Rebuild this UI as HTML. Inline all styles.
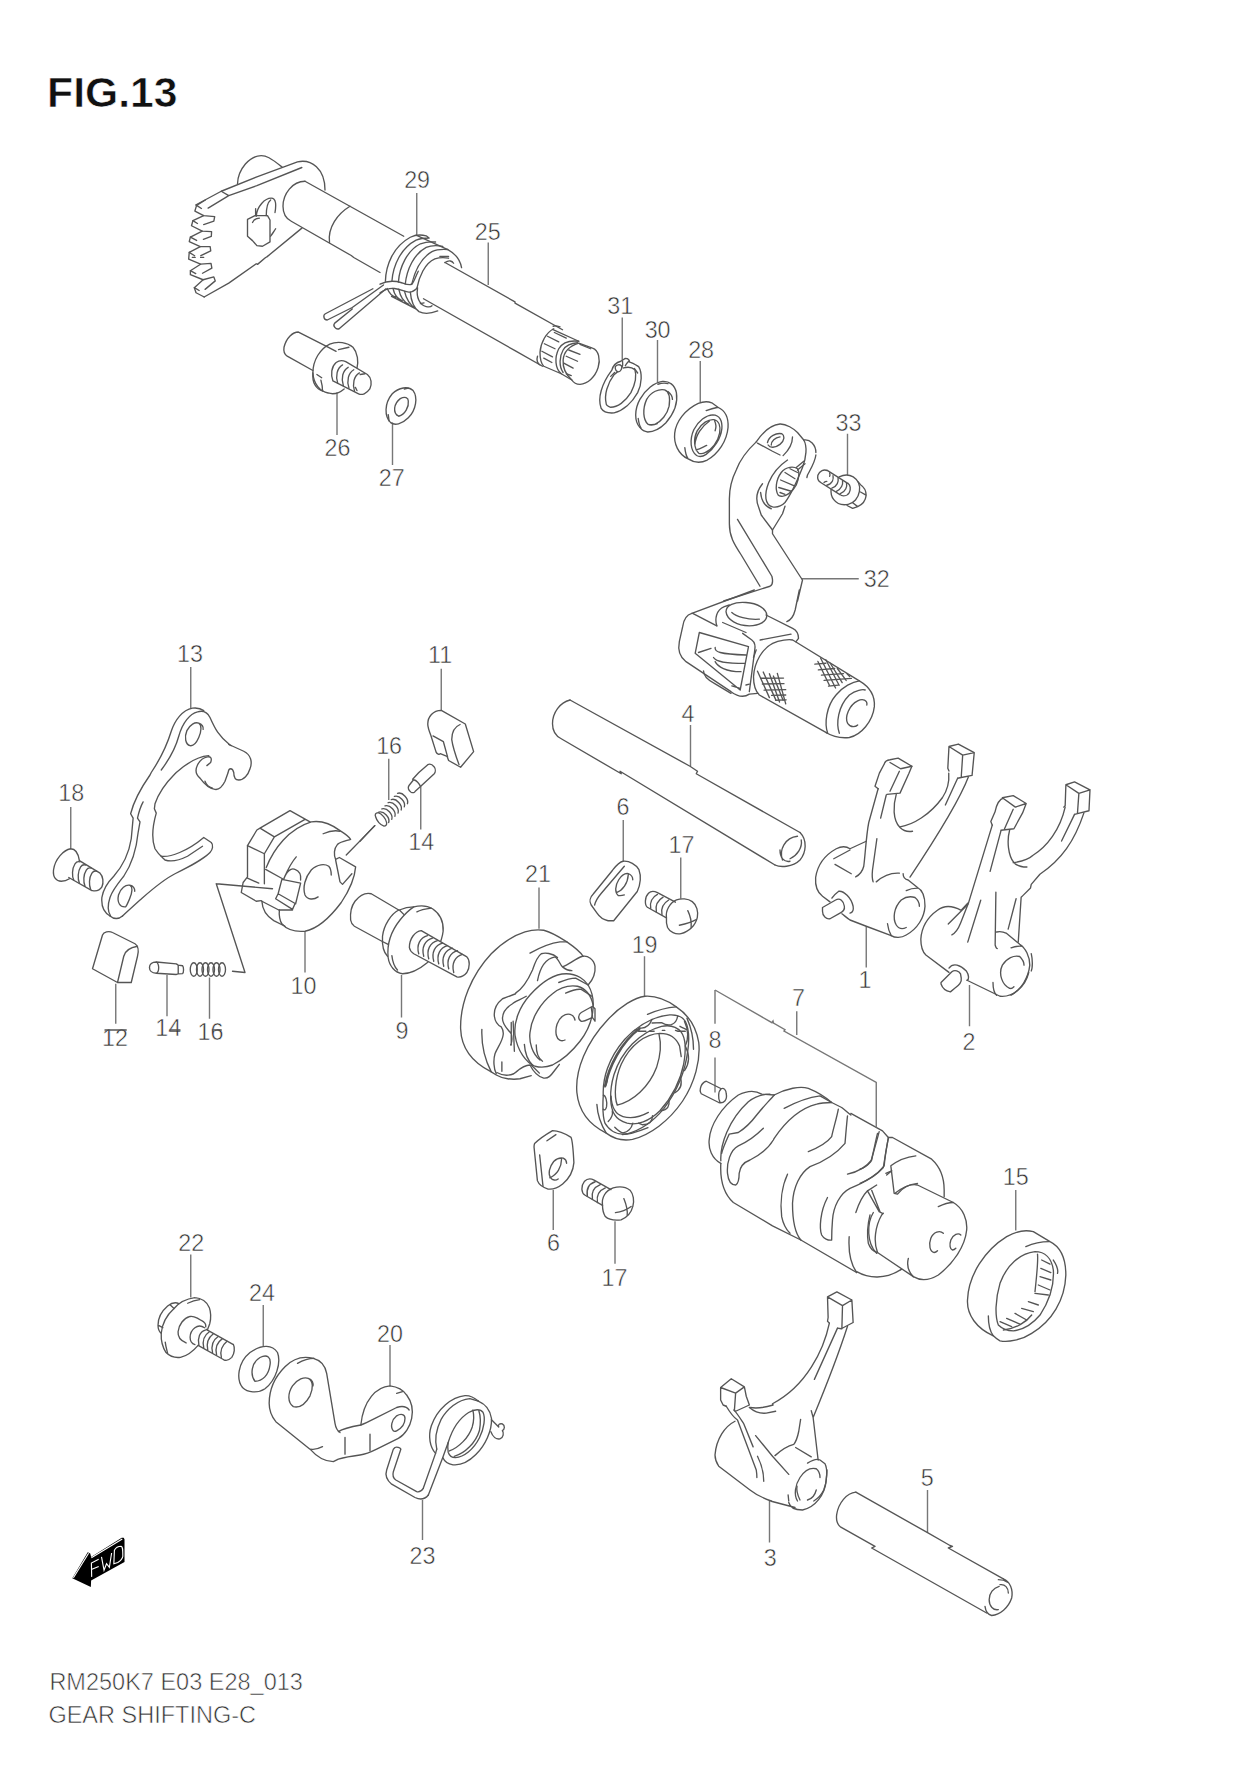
<!DOCTYPE html>
<html><head><meta charset="utf-8"><title>FIG.13</title>
<style>
html,body{margin:0;padding:0;background:#fff;}
svg{display:block;}
.lbl text{font-family:"Liberation Sans",sans-serif;font-size:23.3px;fill:#333;stroke:#fff;stroke-width:0.5px;text-anchor:middle;}
.ld{stroke:#777;stroke-width:1.4;fill:none;}
.p path,.p ellipse,.p circle,.p polyline,.p polygon{fill:none;stroke:#555;stroke-width:1.35;stroke-linejoin:round;stroke-linecap:round;vector-effect:non-scaling-stroke;}
.q{fill:none;stroke:#333;stroke-width:1.1;stroke-linejoin:round;stroke-linecap:round;}
</style></head><body>
<svg width="1247" height="1768" viewBox="0 0 1247 1768">
<text x="47.1" y="107.3" style="font-family:'Liberation Sans',sans-serif;font-weight:bold;font-size:42.7px;fill:#111;stroke:#fff;stroke-width:0.6px">FIG.13</text>
<text x="49.4" y="1690" style="font-family:'Liberation Sans',sans-serif;font-size:23.5px;fill:#333;stroke:#fff;stroke-width:0.6px">RM250K7 E03 E28_013</text>
<text x="48.4" y="1723" style="font-family:'Liberation Sans',sans-serif;font-size:23.5px;fill:#333;stroke:#fff;stroke-width:0.6px">GEAR SHIFTING-C</text>
<g class="lbl"><text x="417.1" y="187.5">29</text><text x="487.8" y="240.0">25</text><text x="620.2" y="314.0">31</text><text x="657.6" y="337.5">30</text><text x="701.1" y="357.5">28</text><text x="337.5" y="455.5">26</text><text x="391.8" y="486.0">27</text><text x="848.4" y="430.5">33</text><text x="876.8" y="586.8">32</text><text x="688.1" y="722.2">4</text><text x="190.0" y="661.8">13</text><text x="71.2" y="801.2">18</text><text x="115.0" y="1046.2">12</text><text x="168.2" y="1035.5">14</text><text x="210.4" y="1040.0">16</text><text x="303.5" y="993.8">10</text><text x="440.1" y="663.0">11</text><text x="389.1" y="753.8">16</text><text x="421.2" y="849.5">14</text><text x="537.9" y="882.0">21</text><text x="402.0" y="1038.8">9</text><text x="623.1" y="814.5">6</text><text x="681.5" y="853.2">17</text><text x="644.6" y="952.5">19</text><text x="715.0" y="1048.0">8</text><text x="798.4" y="1006.2">7</text><text x="865.1" y="988.0">1</text><text x="969.1" y="1050.0">2</text><text x="191.2" y="1250.5">22</text><text x="261.9" y="1301.2">24</text><text x="390.0" y="1341.8">20</text><text x="422.5" y="1563.8">23</text><text x="770.2" y="1566.2">3</text><text x="927.2" y="1486.2">5</text><text x="553.6" y="1251.2">6</text><text x="614.4" y="1286.2">17</text><text x="1015.8" y="1185.0">15</text></g>
<path class="ld" d="M416.75 193L416.75 235M488.25 242.5L488.25 285M622.25 317.5L622.25 360M657.5 340L657.5 382.5M700.25 361L700.25 402.5M337 392.5L337 435M392.5 422.5L392.5 465M847.5 433.75L847.5 475M801.25 578.75L858.75 578.75M690.5 725L690.5 766M190.75 667L190.75 708.75M70.75 807L70.75 848.75M115.75 983.75L115.75 1023.75M167 975L167 1016.25M209.5 977.5L209.5 1018.75M305 931.25L305 972.5M441.25 668.75L441.25 710M388.75 758.75L388.75 800M420.75 786.25L420.75 829.5M539 887.5L539 928.75M401.5 975L401.5 1017.5M623.25 820L623.25 861.25M680.75 857.5L680.75 898.75M644.5 956.25L644.5 996.25M715 990L715 1023.75M715 1057.5L715 1092.5M796.75 1011.25L796.75 1035M866.25 926.25L866.25 967.5M969.5 985L969.5 1026.25M190.75 1254.5L190.75 1297.5M263.25 1305L263.25 1346.25M390 1345L390 1386.25M422.5 1500L422.5 1540M769.5 1500L769.5 1542.5M927.5 1490L927.5 1532.5M553.25 1190L553.25 1230M615 1221.25L615 1263.75M1015.75 1190L1015.75 1230.5"/>

<!-- p01.svg -->
<g class="p" transform="translate(810 745) scale(0.125)">
<path d="M595,150 C600,130 620,120 640,118 L705,105 L815,170 L790,230 L720,385 L615,395 M595,150 L555,225 L520,330 L545,350"/>
<path d="M640,140 L725,190 L815,170 M715,210 L640,370"/>
<path d="M545,350 L470,620 C450,720 440,900 430,970 C420,1010 395,1040 365,1055 M610,400 L565,585"/>
<path d="M690,395 C665,480 660,600 720,660 C750,690 790,695 820,690 M720,655 C820,640 960,560 1060,420 C1100,360 1115,290 1110,225"/>

<path d="M450,770 L320,830 C290,810 250,810 210,830 C120,880 60,960 45,1060 C40,1130 60,1180 100,1210 L160,1255 M190,910 L320,840 M200,955 L330,1030"/>
<path d="M535,750 L500,1000 C495,1050 500,1080 505,1095 M530,1095 C580,1050 640,1020 715,1025 M745,1030 C745,1060 760,1075 785,1080 L860,1140 C900,1160 920,1220 920,1290 C915,1380 860,1470 770,1520 C730,1545 680,1545 650,1525"/>
<path d="M770,1165 C800,1150 830,1145 860,1145 M690,1440 C660,1390 670,1300 730,1240 C770,1210 810,1210 840,1220 C865,1240 875,1270 875,1290 M690,1440 C710,1470 740,1475 770,1460 M620,1430 C625,1470 635,1500 650,1525"/>
<path d="M650,1525 L450,1450 L320,1400 C290,1380 270,1360 255,1350"/>
<path d="M100,1300 L205,1240 C240,1220 270,1250 275,1290 C280,1320 260,1335 240,1345 L160,1390 C130,1395 100,1370 100,1330 Z M230,1170 C270,1165 330,1220 345,1290 C350,1320 340,1340 320,1345 M175,1225 C190,1200 210,1185 230,1170"/>
</g>
<g class="p" transform="translate(910 740) scale(0.14434)">
<path d="M270,45 L335,28 L445,88 L365,105 Z M365,105 L355,255 M445,88 L430,245 L355,260 L330,265 M270,45 L262,195 L270,215"/>
<path d="M330,265 L245,450 M405,255 C350,400 200,650 0,950"/>
<path d="M640,400 L715,385 L805,440 L730,465 Z M590,495 C600,445 620,410 650,400 M805,440 L780,505 L720,615 L630,625 M590,495 L560,565 L570,590 M715,480 L655,615"/>
<path d="M570,590 L405,1130 L350,1270 C330,1320 310,1340 290,1350 M630,630 L555,910"/>
<path d="M690,625 C670,700 680,800 720,850 C740,870 770,880 810,880 M715,850 C780,840 830,820 850,800 C950,740 1040,620 1075,465"/>
<path d="M1080,310 L1140,290 L1247,345 L1170,370 Z M1170,370 L1160,510 M1247,345 L1240,490 L1160,510 L1140,515 M1080,310 L1075,455 L1065,465"/>
<path d="M1140,515 L1050,700 M1205,505 C1140,700 1050,830 900,930 L840,1000 L835,1025 L780,1080 L770,1090 L750,1400"/>
<path d="M490,1110 L400,1400 M595,1055 L590,1420 C595,1440 600,1445 605,1445 M735,1100 L680,1310"/>
<path d="M400,1130 L355,1180 C300,1150 240,1140 190,1180 C120,1230 80,1300 75,1380 C75,1440 90,1470 110,1490 L270,1610 M265,1275 L400,1140"/>
<path d="M600,1330 C620,1325 650,1330 670,1340 L760,1415 C800,1440 830,1500 830,1560 C820,1650 770,1730 700,1768 M700,1440 C730,1430 760,1425 780,1430"/>
<path d="M690,1720 C640,1700 610,1620 640,1560 C670,1510 720,1490 760,1500 C780,1520 790,1540 790,1560 M690,1720 C700,1725 710,1720 720,1710 M840,1480 C850,1520 850,1580 840,1600"/>
<path d="M215,1680 L290,1605 C310,1590 340,1600 350,1620 L355,1650 C360,1680 340,1700 310,1720 L280,1745 C255,1740 225,1720 215,1690 Z M270,1580 C300,1540 350,1560 390,1600 C410,1630 410,1660 395,1665 M575,1680 C575,1720 580,1750 600,1768"/>
</g>
<g class="p" transform="translate(800 740) scale(0.25)">
<path d="M800,1025 C850,1030 900,990 915,930 M668,961 L800,1025"/>
</g>

<!-- p03.svg -->
<g class="p" transform="translate(700 1280) scale(0.125)">
<path d="M1020,135 L1095,95 L1215,160 L1140,205 Z M1140,205 L1135,390 M1215,160 L1225,340 L1130,390 L1100,385 M1020,135 L1025,300 L1020,330 L1035,345"/>
<path d="M1035,345 C990,560 850,850 580,990 L585,1000 C520,1020 460,1030 400,1020 M1100,385 L915,795 M1180,370 C1100,620 1000,870 905,1100 L890,1045 M905,1100 L945,1440"/>
<path d="M165,860 L250,790 L355,855 L285,905 Z M285,905 L275,1045 M355,855 L370,930 L395,1000 L285,1050 L270,1040 M165,860 L165,960 L185,1000 L210,1010"/>
<path d="M210,1010 C240,1060 270,1100 300,1120 L450,1520 C455,1550 455,1570 455,1580 M275,1045 C300,1070 330,1120 350,1150 L425,1335 M460,1410 C480,1450 510,1530 510,1610"/>
<path d="M395,1020 C430,1050 480,1070 530,1065 L605,1050"/>
<path d="M445,1245 L580,1410 L710,1555 M600,1405 C650,1360 690,1330 750,1315 C770,1290 780,1260 790,1210 L805,1115 M765,1340 L890,1415"/>
<path d="M280,1130 C200,1170 130,1270 120,1400 C120,1440 130,1460 150,1490 L400,1680 C450,1720 520,1750 570,1768"/>
<path d="M860,1465 C900,1440 940,1430 960,1440 L1000,1470 C1020,1510 1020,1600 990,1680 C970,1720 940,1750 910,1768 M780,1768 C750,1720 760,1640 800,1580 C840,1520 890,1500 930,1510 C955,1530 960,1560 960,1580 M705,1720 L710,1768"/>
</g>
<g class="p" transform="translate(690 1260) scale(0.25)">
<path d="M325,965 L420,990 M395,970 C400,990 420,1000 450,1000 C500,990 540,940 545,880 L548,840 M440,960 C430,940 425,920 428,905 M470,960 C490,955 500,940 505,920"/>
</g>
<g class="p" transform="translate(820 1473) scale(0.16667)">
<path d="M215,115 L640,355 L780,435 L795,440 L770,450 L1100,635"/>
<path d="M215,115 C160,120 110,180 100,250 C95,290 105,310 125,325 L330,440 L310,450 L1000,840"/>
<path d="M1100,635 C1140,650 1160,700 1150,750 C1130,810 1080,850 1030,855 C1010,850 995,840 990,800 M1070,820 C1040,825 1015,800 1015,760 C1015,720 1040,690 1075,680 M1080,670 C1110,665 1130,690 1130,720 M1070,640 C1090,640 1110,645 1125,655"/>
</g>

<!-- p06.svg -->
<g class="p" transform="translate(580 850) scale(0.11227)">
<path d="M385,100 C440,95 500,130 525,175 C545,230 540,300 510,370 L300,630 L250,630 C200,620 170,590 150,560 L100,490 C80,460 90,420 120,390 L290,180 C320,140 350,105 385,100 Z"/>
<path d="M130,490 C140,450 160,420 190,385 L395,145"/>
<path d="M340,405 C310,380 310,320 345,265 C370,225 400,205 430,210 C460,220 470,250 470,265 M340,405 C360,410 380,405 395,400 M325,380 C380,360 425,300 430,220"/>
<path d="M600,510 C575,490 575,420 610,385 C630,365 660,365 690,380 L850,465 M600,510 L770,605"/>
<path d="M630,520 C620,470 640,420 690,395 M680,550 C670,500 690,450 740,420 M730,575 C720,525 740,475 790,445"/>
<path d="M770,605 C760,540 800,470 860,445 C900,430 960,430 1000,460 C1040,490 1055,550 1045,600 C1030,670 970,730 900,745 C850,755 800,730 780,690 C770,665 768,630 770,605 Z"/>
<path d="M960,540 C980,580 995,630 990,690 M885,670 C930,660 990,645 1035,620"/>
</g>
<g class="p" transform="translate(520 1120) scale(0.11227)">
<path d="M130,210 C160,180 230,130 290,95 C330,95 400,120 455,155 C470,190 475,280 480,380 C475,450 440,520 380,570 C330,610 290,620 250,615 C200,600 170,580 155,540 L125,240 C125,225 128,215 130,210 Z"/>
<path d="M175,310 L205,590 M240,185 L320,130"/>
<path d="M270,510 C250,480 260,420 300,370 C330,340 360,335 385,340 C405,350 415,370 415,385 M270,510 C290,540 320,540 340,525 M265,515 C330,490 370,420 370,350"/>
<path d="M580,670 C545,650 540,590 575,545 C600,520 630,520 660,535 L810,620 M580,670 L735,760"/>
<path d="M600,680 C590,620 610,570 670,550 M645,705 C635,650 655,600 715,575 M690,735 C680,680 700,630 760,605"/>
<path d="M735,760 C725,690 760,630 830,605 C880,590 940,595 980,625 C1010,660 1020,720 1005,770 C990,830 950,870 900,890 C850,895 790,890 760,860 C740,830 735,790 735,760 Z"/>
<path d="M925,700 C945,750 960,800 955,850 M850,825 C900,820 950,800 990,770"/>
</g>

<!-- p07.svg -->
<g class="p" transform="translate(540 680) scale(0.25)">
<path d="M665,1605 C645,1610 635,1640 645,1655 L715,1690 C735,1695 750,1680 745,1655 C745,1640 735,1630 725,1635 L665,1605 Z M725,1635 C712,1645 712,1675 720,1688"/>
</g>
<g class="p" transform="translate(700 1070) scale(0.16667)">
<path d="M125,560 C70,530 50,470 55,420 C60,330 130,220 230,150 C280,125 330,120 370,145 L445,150"/>
<path d="M125,545 C120,450 170,300 290,190 C330,160 380,145 420,145"/>
<path d="M445,150 C520,110 600,95 650,110 C700,130 750,160 790,195 L850,225 C870,240 890,260 905,270 "/>
<path d="M125,560 C120,650 140,740 200,795 L435,935 L605,1020 L940,1215"/>
<path d="M175,385 L230,375 C270,350 310,310 340,270 C380,220 420,180 445,150 M175,385 C160,420 140,460 130,500"/>
<path d="M380,350 C340,390 290,430 230,455 C180,480 160,560 165,620 C170,670 190,690 215,690 C230,680 235,660 235,620 C240,580 260,555 300,540 C360,510 410,470 440,420 L445,410 C520,300 600,230 700,205 C730,195 760,195 790,195"/>
<path d="M505,230 C580,190 640,165 720,155 L790,195 M830,235 C820,290 800,350 790,400 C760,440 700,470 650,490"/>
<path d="M885,275 C880,320 875,380 870,440 C820,500 740,550 660,580 C600,620 560,700 555,800 C555,900 570,980 605,1020 M525,625 C490,700 480,800 490,880 C500,930 520,960 540,980"/>
<path d="M1075,370 C1060,430 1040,490 1030,540 C1000,580 950,610 885,625 M1130,410 C1120,460 1110,520 1105,575 C1070,620 1000,670 900,710 C840,740 800,820 795,900 C790,960 790,1010 790,1020 C770,1025 740,1010 730,990 C715,950 720,850 765,765"/>
<path d="M895,1000 C890,1080 900,1160 940,1215"/>
<path d="M1005,725 L1060,690 M1005,725 L1075,850 L1095,860 M1030,722 L1080,850 M935,855 C960,780 990,740 1005,725 M1060,1100 C1000,1040 1000,920 1040,855 M1120,630 L1150,605"/>
</g>
<g class="p" transform="translate(860 1100) scale(0.16667)">
<path d="M-55,80 L135,185 L170,225 L195,225 L430,355 C480,400 505,460 505,540 L505,580"/>
<path d="M105,200 C90,260 80,320 65,370 C40,400 20,410 0,415 M170,225 C160,280 150,340 140,405 C100,450 50,480 0,500"/>
<path d="M-20,1030 C50,1070 150,1080 250,1015"/>
<path d="M210,560 C260,520 300,500 345,510 L560,615 C620,650 645,720 640,780 C630,880 560,980 470,1050 C420,1080 370,1090 320,1060 L105,915 C80,850 90,760 130,690 L140,680"/>
<path d="M320,1060 C290,1030 280,990 290,950 M470,640 C500,625 530,615 560,615"/>
<path d="M500,800 C480,780 440,790 425,830 C410,870 420,910 445,915 C455,915 465,905 465,905 M605,810 C590,795 560,805 545,840 C535,870 540,895 555,900 C565,900 570,895 575,890"/>
<path d="M185,395 L205,560 L225,565 C250,530 290,505 345,500 M185,395 C230,360 290,340 335,335 M155,440 L190,425"/>
<path d="M60,690 C50,730 40,800 50,860 C60,890 80,910 105,915"/>
</g>
<g class="p" transform="translate(860 1100) scale(0.16667)">
<path d="M800,1415 C700,1370 640,1290 645,1200 C650,1050 750,900 880,820 C940,785 1000,780 1040,790 L1140,850 C1200,880 1235,950 1235,1050 C1230,1200 1150,1330 1030,1400 C970,1440 890,1455 840,1445 C820,1435 810,1425 800,1415 Z"/>
<path d="M995,880 C1040,860 1090,850 1135,850 M770,1295 C770,1350 780,1390 800,1415"/>
<path d="M830,1350 C810,1300 810,1200 840,1100 C880,990 960,920 1050,910 C1110,910 1150,950 1160,1020 C1165,1100 1140,1200 1080,1290 C1030,1350 970,1380 920,1385 C880,1385 850,1370 830,1350 Z"/>
<path d="M860,1380 C940,1370 1000,1330 1030,1290 M1050,1150 C1060,1050 1070,970 1065,925 M1160,960 C1180,990 1190,1020 1185,1040"/>
<path d="M1090,960 L1140,985 M1085,1010 L1145,1035 M1080,1060 L1145,1080 M1070,1110 L1140,1140 M1050,1160 L1130,1170 M1010,1210 L1070,1230 M970,1250 L1040,1270 M930,1280 L1000,1320 M880,1310 L960,1345 M840,1330 L910,1360"/>
</g>

<!-- p09.svg -->
<g class="p" transform="translate(360 700) scale(0.10425)">
<path d="M780,100 L1010,230 L1090,495 L965,645 L850,580 L835,540 L770,515 C760,525 740,520 730,500 L680,340 C660,290 650,260 650,230 C650,160 700,100 780,100 Z"/>
<path d="M700,345 L800,400 L840,545 M960,235 C900,260 880,320 880,380 C890,450 920,540 950,620"/>
<path d="M570,690 L650,620 C670,610 690,615 710,640 C725,660 725,690 715,705 L580,830 M570,690 L560,700 L505,760 M510,770 L470,820 C455,840 465,870 490,885 C510,895 525,885 530,875 L580,830 M515,765 C540,770 570,800 580,830"/>
<path d="M150,1120 C140,1100 150,1080 175,1080 C210,1090 250,1140 255,1175 C260,1200 245,1210 230,1210 C195,1200 160,1160 150,1120 Z"/>
<path d="M180,1075 C230,1060 290,1130 275,1175 M210,1045 C260,1030 320,1100 305,1145 M240,1015 C290,1000 350,1070 335,1115 M270,985 C320,970 380,1040 365,1085 M300,955 C350,940 410,1010 395,1055 M330,925 C380,910 440,980 425,1025 M360,895 C410,880 470,950 455,995"/>
<path d="M140,1205 L0,1355"/>
</g>
<g class="p" transform="translate(340 880) scale(0.125)">
<path d="M470,240 L250,110 C210,100 160,120 120,170 C90,210 80,260 85,320 C90,350 100,360 115,370 L335,490 L385,515"/>
<path d="M475,240 L510,275 M470,240 C410,270 350,360 340,450 C335,530 350,580 380,610 M475,240 C520,220 560,215 590,215"/>
<path d="M590,215 C650,200 700,205 740,230 C800,270 830,330 825,410 C815,500 760,600 700,660 C640,710 580,750 500,750 C440,740 395,690 385,620 C375,520 400,420 480,320 C520,270 560,235 590,215 Z"/>
<path d="M615,255 C650,235 690,230 730,225 M415,605 C420,650 430,690 460,720"/>
<path style="fill:#fff" d="M650,405 C600,410 555,470 555,540 C560,570 575,580 590,590 L935,775 C960,780 990,770 1015,740 C1040,700 1040,640 1015,615 L650,405 Z"/>
<path d="M630,590 C610,520 640,460 700,445 M670,610 C650,540 680,480 740,465 M710,630 C690,560 720,500 780,485 M750,650 C730,580 760,520 820,505 M790,670 C770,600 800,540 860,525 M830,690 C810,620 840,560 900,545 M870,710 C850,640 880,580 940,565 M910,740 C890,670 920,610 980,595"/>
</g>

<!-- p13.svg -->
<g class="p" transform="translate(100 695) scale(0.125)">
<path d="M80,1768 C30,1740 10,1680 15,1620 C25,1560 60,1500 110,1450 C180,1370 230,1280 250,1150 L265,985 L245,950 C270,850 330,740 400,640 L410,620 C470,530 530,420 570,290 C600,200 660,120 740,105 C780,100 810,110 830,125"/>
<path d="M85,1768 C60,1730 60,1680 80,1620 C100,1560 150,1500 190,1450 C250,1360 290,1250 305,1100 L320,1015 L300,985 C310,940 320,900 345,855"/>
<path d="M490,600 C550,520 600,440 630,330 C660,220 720,150 780,135 C830,120 860,140 880,180 C920,270 950,330 1040,400 L1150,450 C1210,480 1220,540 1200,590 C1185,640 1150,680 1110,680 C1080,680 1070,660 1070,620 C1060,580 1030,580 1025,620 L1000,690 C980,730 950,760 920,755 C880,750 840,720 800,665 C770,640 760,600 780,560 C800,520 830,500 860,495 C880,490 900,500 885,540 L855,565"/>
<path d="M870,485 C800,490 700,540 610,620 L600,630 C530,700 470,780 440,870 L435,910 L450,945 C420,1050 410,1150 440,1230 C470,1280 500,1300 520,1320 C580,1340 640,1320 700,1290 L820,1210"/>
<path d="M490,1290 C560,1300 700,1250 830,1140 L890,1180 C910,1200 900,1240 880,1260 C820,1320 720,1370 600,1430 C500,1480 400,1570 320,1640 L210,1740 L180,1768"/>
<path d="M720,405 C685,395 672,340 695,285 C720,235 760,215 790,225 C815,240 812,290 790,340 C770,385 745,410 720,405 Z M790,225 C815,230 830,255 825,275"/>
<path d="M205,1695 C160,1700 135,1660 148,1600 C165,1545 205,1515 240,1522 C265,1540 255,1590 235,1635 C220,1670 210,1690 205,1695 Z M240,1522 C265,1525 280,1550 278,1570"/>
<path d="M1030,395 L1050,405 M840,690 C850,720 880,740 900,745 M80,1768 C110,1795 150,1795 180,1768"/>
</g>
<g class="p" transform="translate(30 620) scale(0.25)">



<path d="M250,1395 L290,1260 C295,1248 315,1242 330,1250 L420,1295 C435,1305 435,1325 430,1345 L405,1450 L350,1450 Z M350,1450 L375,1345 C380,1325 400,1310 430,1305"/>

<ellipse cx="655" cy="1398" rx="14" ry="27"/><ellipse cx="680" cy="1398" rx="14" ry="27"/><ellipse cx="702" cy="1398" rx="14" ry="27"/><ellipse cx="724" cy="1398" rx="14" ry="27"/><ellipse cx="746" cy="1398" rx="14" ry="27"/><ellipse cx="768" cy="1398" rx="14" ry="27"/>
<path d="M745,1055 L970,1075 M745,1055 L860,1410 L810,1405"/>
<path d="M300,1640 L385,1640 M560,1640 L600,1640 M730,1640 L765,1640"/>
</g>
<g class="p" transform="translate(230 800) scale(0.125)">
<path d="M140,365 L215,240 L240,225 L480,85 L640,175 M240,225 L355,295 L600,155 M140,365 L275,430 L355,295"/>
<path d="M140,365 L140,615 M275,430 L275,670 M140,615 L105,660 L90,740 L210,810 L250,805 M140,625 L230,665"/>
<path d="M290,540 C350,390 470,230 650,175 C740,160 820,200 880,245 C920,270 950,290 965,315 C940,325 890,330 860,355 C830,390 830,440 845,475 L875,460 L1005,535 C1000,600 970,700 890,820 C800,940 700,1030 600,1050 C500,1060 440,1020 415,990 C400,970 390,920 395,880"/>
<path d="M255,810 C260,900 310,940 350,965 L440,1010 M285,555 L420,630"/>
<path d="M745,270 C790,250 840,240 880,250 M705,775 C670,800 620,800 600,760 C580,700 600,620 650,560 C700,510 760,510 790,530 C810,550 810,580 810,600"/>
<path d="M430,635 C450,570 490,540 520,555 C560,570 570,600 565,640 M430,630 C460,560 490,500 530,455"/>
<path d="M415,635 L565,665 L525,830 L385,750 Z M385,750 L365,790 L500,875 L520,830 M255,810 L390,880 L500,880"/>
<path d="M845,480 L880,655 L900,675 L975,590"/>
<path d="M930,440 L1160,205"/>
</g>
<g class="p" transform="translate(45 840) scale(0.12509)">
<path d="M205,70 C150,80 80,150 68,240 C62,300 90,330 130,330 C160,330 180,320 195,310 M205,70 C240,70 265,100 275,165"/>
<path d="M275,165 L440,265 M190,300 L375,405 M440,265 C465,290 470,340 455,375 C440,400 410,410 380,405"/>
<path d="M230,320 C215,290 215,230 240,190 C250,175 265,170 280,175 M275,345 C260,310 262,250 285,215 C295,200 310,195 325,200 M320,370 C305,335 307,275 330,240 C340,225 355,220 370,225 M365,395 C350,360 352,300 375,265 C385,250 400,245 415,250"/>
<path d="M890,975 L1050,990 L1065,1000 L1100,1005 C1110,1015 1110,1060 1100,1068 L1065,1070 L1050,1075 L890,1065 C850,1065 835,1040 835,1020 C835,995 855,975 890,975 Z M890,975 C915,990 915,1055 890,1065 M1065,1000 L1065,1070"/>
</g>

<!-- p19.svg -->
<g class="p" transform="translate(570 980) scale(0.125)">
<path d="M290,1225 C160,1160 70,1060 55,900 C40,720 130,500 300,320 C400,210 520,140 600,130 C680,125 760,150 850,215 C950,280 1010,380 1030,500 C1045,640 1000,820 900,970 C790,1130 640,1240 500,1275 C420,1290 350,1270 290,1225 Z"/>
<path d="M620,275 C700,240 780,220 850,215 M215,995 C220,1080 250,1160 290,1225"/>
</g>
<g class="p" transform="translate(600 1005) scale(0.08203)">
<path d="M40,1100 C30,900 100,650 300,420 C450,260 650,140 850,120 C950,115 1010,150 1040,200 C1080,280 1090,420 1070,560 C1040,800 940,1050 780,1260 C650,1420 480,1530 330,1570 C220,1590 120,1540 60,1440 C40,1380 30,1250 40,1100"/>
<path d="M55,990 C100,750 250,450 480,280 M70,990 C115,760 260,460 490,290"/>
<path d="M180,1340 C120,1250 110,1050 170,850 C260,570 480,330 750,260 C850,240 940,270 990,330 C1040,400 1050,550 1020,720 C980,920 880,1120 730,1290 C600,1420 450,1470 330,1440 C260,1420 210,1390 180,1340"/>
<path d="M210,1220 C170,1110 180,900 260,720 C370,480 560,350 730,345 C840,345 930,400 970,500 L990,630 M210,1220 C400,1180 600,1000 690,760 C730,640 750,480 720,360 M135,1110 C140,1240 180,1330 280,1360 C380,1390 500,1360 590,1310"/>
<path d="M480,280 C540,290 600,260 635,175 M635,220 L750,215 C790,240 830,250 870,240 C920,220 940,180 945,140 M975,260 C1010,280 1040,290 1055,300"/>
<path d="M1030,200 C1080,300 1080,420 1040,500 M1040,500 C1090,600 1100,700 1030,800 M980,880 C1000,950 990,1030 910,1070 M840,1160 C850,1220 830,1280 740,1290 M640,1350 C640,1420 600,1460 520,1460 L470,1440"/>
<path d="M400,1440 C380,1520 330,1550 280,1560 M180,1490 C210,1520 240,1550 280,1560 M100,1420 C140,1380 160,1340 150,1290 M40,1100 C70,1100 90,1180 80,1240 C70,1290 50,1280 40,1270 M60,1000 C90,950 100,880 90,860"/>
<path d="M420,310 L480,290 L470,320 L560,320 M600,320 L660,320 M760,310 L790,310 M920,310 L950,320 L1040,320"/>
<path d="M585,1495 C450,1550 350,1580 270,1580 M1060,160 C1100,250 1140,380 1140,540"/>
</g>

<!-- p20.svg -->
<g class="p" transform="translate(150 1290) scale(0.0802)">
<path d="M360,170 C320,150 270,160 220,200 C150,260 100,350 100,440 C100,490 115,520 140,540 M250,185 L300,230 M105,440 L160,470"/>
<path d="M560,95 C640,100 710,150 740,220 C760,280 760,360 745,420 L715,500 M600,690 C540,760 470,820 380,840 C300,850 240,820 200,780 C160,720 135,640 140,540 C150,430 200,320 300,230 C350,170 450,110 560,95"/>
<path d="M470,165 C520,140 570,125 620,120 M190,650 C195,700 210,750 220,790"/>
<path d="M450,660 C380,630 345,580 350,520 C360,430 420,350 500,330 C530,325 560,335 590,350 L640,380 C680,400 700,430 695,460"/>
<path d="M700,490 L1040,680 M600,690 L920,870 M1040,680 C1060,720 1055,790 1020,840 C990,870 950,885 920,870"/>
<path d="M560,680 C480,660 480,530 560,470 C600,440 650,450 680,470 M610,690 C590,600 620,520 690,500 M670,720 C650,630 680,560 740,520 M720,750 C700,660 730,590 790,545 M780,780 C760,690 790,620 850,580 M830,810 C810,720 840,650 900,610 M890,840 C870,760 900,690 960,640"/>
</g>
<g class="p" transform="translate(140 1220) scale(0.25)">
<path d="M410,670 C385,640 390,570 440,530 C490,495 530,500 550,530 C565,570 545,640 500,675 C470,695 430,690 410,670 Z M460,645 C440,620 445,570 480,550 C510,535 525,550 520,580 C515,620 490,645 460,645 Z"/>
</g>
<g class="p" transform="translate(260 1340) scale(0.16667)">
<path d="M320,110 C260,95 200,110 150,160 C90,220 55,300 55,380 C55,430 70,460 95,490 L300,655 C340,700 380,730 440,730 L470,715 C520,700 560,695 600,690 C640,685 670,670 700,655 L830,590 C870,570 900,520 910,470 C920,420 910,370 880,330 C860,300 820,280 780,275 C700,280 620,360 605,510"/>
<path d="M605,510 C630,500 650,490 690,470 L820,405 C850,395 880,400 895,420 M320,110 C360,120 390,150 400,200 L450,500 C455,530 465,545 480,555 M470,550 C500,530 550,520 605,510"/>
<path d="M200,400 C165,375 165,320 195,275 C225,235 265,220 290,230 C320,245 320,290 300,335 C275,380 240,410 200,400 Z M290,230 C315,235 320,260 318,275"/>
<path d="M800,545 C780,520 790,480 820,455 C845,440 870,445 870,470 C870,500 850,530 820,545 C810,550 805,550 800,545 Z"/>
<path d="M225,140 C260,120 290,110 325,110 M820,320 L855,310 M305,655 C330,660 355,650 375,640 M510,585 L510,685 M660,565 L660,665"/>
<path d="M800,655 L810,645 C820,640 840,645 845,655 L800,790 C795,810 800,830 815,840 L940,910 C960,915 970,905 980,890 M800,655 L760,780 C750,810 760,840 790,865 L930,945 C960,960 990,955 1010,930"/>
</g>
<g class="p" transform="translate(370 1380) scale(0.12029)">
<path d="M545,610 C500,560 480,470 510,380 C560,240 680,140 790,130 C830,128 860,140 900,175"/>
<path d="M555,575 C540,510 545,420 590,330 C640,240 730,165 830,155 L900,175"/>
<path d="M900,175 C960,200 1000,250 1010,320 C1015,420 960,540 880,620 C810,690 740,710 690,705 C650,700 620,680 605,645"/>
<path d="M650,520 C680,420 740,320 820,270 C870,240 920,240 940,270 C960,310 950,400 910,480 C860,580 780,640 710,645 C680,645 660,630 650,600 C645,570 645,545 650,520"/>
<path d="M660,590 C740,560 820,480 850,390 C865,340 865,290 855,250 M700,635 C790,610 880,520 910,420 C920,360 920,300 905,255"/>
<path d="M545,610 L443,900 M605,645 L485,956 M555,575 L545,610 M650,520 L605,645"/>
<path d="M1010,330 C1040,360 1060,380 1070,390 C1060,370 1080,360 1100,365 C1125,380 1120,410 1100,420 C1115,440 1110,480 1080,490 C1050,495 1020,470 1005,430"/>
</g>

<!-- p21.svg -->
<g class="p" transform="translate(450 910) scale(0.125)">
<path d="M330,1295 C180,1220 90,1100 85,950 C80,750 170,520 330,350 C420,260 520,200 600,175 C650,160 700,155 750,162 C820,180 880,220 935,255 C1000,300 1040,330 1065,370"/>
<path d="M330,1295 L370,1320 C420,1350 500,1360 560,1350 L650,1325 M255,955 C250,1080 270,1180 330,1295 M640,345 C720,300 800,265 880,255 L935,255"/>
<path d="M1065,370 C1100,365 1150,390 1160,450 C1165,500 1150,550 1105,600 M700,565 C720,460 760,390 840,375 C870,390 880,440 900,455 C950,440 1000,390 1060,370 M900,455 C930,480 960,485 975,485"/>
<path d="M525,665 C580,630 620,570 660,480 C680,420 700,370 730,350 C760,340 820,345 860,380"/>
<path d="M525,670 L420,710 C370,750 350,800 355,850 C360,890 380,920 410,935 C420,950 430,970 425,1000 C420,1050 380,1100 360,1150 C345,1200 350,1270 370,1310"/>
<path d="M375,1300 C410,1320 460,1330 510,1310 L530,1295 C570,1260 600,1240 640,1240 C660,1280 690,1330 750,1345 C790,1350 810,1320 840,1280 L875,1235"/>
<path d="M610,690 C560,720 520,730 500,750 C450,780 420,820 420,870 C420,920 460,950 490,990 C500,1030 490,1070 485,1080 M415,1215 L415,1290 M505,890 L515,1130 M490,900 L490,1080"/>
<path d="M520,1000 C510,900 550,780 640,680 C730,580 830,510 930,510 C1020,510 1080,560 1105,600 C1135,650 1150,710 1145,780 C1140,870 1110,960 1040,1050 C970,1140 880,1210 820,1240 C770,1260 720,1260 680,1250 C610,1220 540,1130 520,1000"/>
<path d="M720,1200 C660,1150 630,1060 640,980 C650,860 730,740 820,670 C880,620 950,600 1020,610 C1090,630 1130,690 1145,760"/>
<path d="M870,580 C920,560 960,545 1005,545 L1105,600 M925,665 C980,640 1010,630 1050,635 L1135,690 M595,1075 C600,1150 630,1210 660,1240 M690,1080 C690,1140 710,1190 740,1210 M650,1240 L715,1305"/>
<path d="M1000,880 C990,830 940,820 900,850 C860,880 840,940 850,1000 C860,1040 890,1055 920,1040"/>
<path d="M1140,770 L1050,820 C1020,840 1025,880 1050,890 C1080,895 1110,870 1140,860 L1160,890 L1160,790 Z M1130,780 L1140,850"/>
</g>

<!-- p25.svg -->
<g class="p" transform="translate(185 200) scale(0.05656)">
<path d="M360,0 L205,95 L175,195 L330,275 L525,295 L510,375 L330,435"/>
<path d="M330,275 L140,365 L115,455 L305,550 L470,560 L465,645 L325,695"/>
<path d="M305,550 L95,655 L75,735 L270,825 L445,825 L455,900 L280,985"/>
<path d="M270,825 L75,925 L65,1045 L275,1135 L460,1120 L475,1205 L310,1295"/>
<path d="M275,1135 L95,1250 L95,1320 L320,1410 L510,1360 L535,1430 L355,1580"/>
<path d="M320,1410 L165,1550 L195,1640 L340,1715"/>
<path d="M205,95 L290,150 M140,365 L220,415 M95,655 L205,715 M75,925 L170,985 M95,1250 L190,1300 M165,1550 L250,1600 M130,1015 L180,1015 M275,1015 L330,1015"/>
</g>
<g class="p" transform="translate(180 150) scale(0.125)">
<path d="M125,440 L330,330 L615,215 L940,95 C1050,70 1160,150 1160,320"/>
<path d="M330,330 L390,365 M225,465 L390,365 L615,285 L975,140"/>
<path d="M460,270 C465,150 560,45 650,45 C690,45 720,60 815,135"/>
<path d="M193,1176 L390,1065 L610,910 L620,915 L685,860 L695,855 L975,625"/>
<path d="M540,555 L600,525 L700,525 L720,560 L720,735 L660,770 L615,765 L580,725 L540,690 Z"/>
<path d="M610,530 C615,450 680,385 730,385 C770,385 770,440 760,500 M690,525 C690,470 700,420 725,400 M605,525 L605,470 M725,690 C745,660 760,640 765,630 M580,580 C590,560 610,545 635,545"/>
</g>
<g class="p" transform="translate(160 140) scale(0.25)">
<path d="M580,165 C530,165 492,215 492,265 C492,300 505,315 525,325 L765,462 L775,470 L880,530"/>
<path d="M580,165 L975,385"/>
<path d="M760,265 C710,295 670,350 678,410"/>

</g>
<g class="p" transform="translate(316 220) scale(0.125)">
<path d="M455,550 L75,750 C55,760 60,800 90,800 L290,700 M290,700 L540,520 M150,825 C130,845 160,880 185,870 L560,550 M150,825 L290,712"/>
</g>
<g class="p" transform="translate(380 225) scale(0.07217)">
<path d="M75,780 C80,560 180,300 420,170 C480,140 560,130 640,150 L680,180 M165,780 C180,560 290,320 500,210 C570,180 640,180 680,180 M255,790 C270,580 380,350 560,260 C640,230 710,230 770,235 M350,820 C370,620 470,400 640,310 C710,280 790,280 870,295 M440,820 C480,650 560,460 720,370 C790,335 870,335 940,340"/>
<path d="M510,880 C540,720 620,530 760,470 C820,450 880,445 950,460 M500,140 L940,340 C1050,400 1110,480 1130,590 M900,520 C960,480 1000,500 1020,530 M830,435 L950,435"/>
<path d="M0,820 C100,770 200,770 300,800 C360,820 410,840 440,820 C470,790 490,720 530,640 M0,940 C60,900 120,870 200,880 C280,890 340,920 400,930 C450,935 490,900 520,870"/>
<path d="M100,880 C130,950 170,990 220,1000 M180,880 C200,970 250,1030 310,1050 M260,890 C280,990 330,1070 400,1100 M340,920 C360,1010 410,1100 490,1160 M420,930 C430,1050 470,1150 540,1200 C600,1230 700,1230 800,1190 M160,990 L490,1160"/>
<path d="M520,880 C500,1000 550,1110 640,1130 C680,1140 710,1130 720,1120 M560,1090 L610,1080"/>

</g>
<g class="p" transform="translate(280 320) scale(0.16038)">
<path d="M290,165 L115,75 C80,75 40,110 25,170 C20,200 30,215 45,225 L205,315"/>
<path d="M205,330 C205,250 250,180 310,150 C360,130 420,140 455,170 C485,205 490,260 480,300 M400,430 C370,455 330,465 300,455 C250,445 210,400 205,330"/>
<path d="M205,330 C200,390 225,430 270,445 M230,340 L260,360 M255,375 C262,400 265,420 265,440 M290,165 L350,195 M365,185 L430,170"/>
<path style="fill:#fff" d="M330,380 C315,340 320,290 350,265 C370,250 390,250 410,260 L545,340 C570,360 575,400 560,430 C540,460 510,470 490,460 Z"/>
<path d="M360,395 C345,350 355,300 390,280 M395,410 C380,365 390,315 425,295 M430,425 C415,380 425,330 460,310 M465,445 C450,400 460,350 495,330 M500,340 L530,335 M470,420 L480,440"/>
<path d="M690,640 C650,600 650,520 700,460 C740,420 800,410 830,440 C860,480 850,560 800,610 C760,650 715,660 690,640 Z M740,600 C700,580 710,520 750,490 C780,475 800,485 800,505 C805,540 780,590 740,600 Z"/>
<path d="M775,430 L800,425 M675,590 L680,630"/>
</g>
<g class="p" transform="translate(430 240) scale(0.125)">
<path d="M120,180 L680,495 L680,505 L1060,718 M-52,470 L680,885 L900,1010"/>
<path d="M860,930 C850,960 860,990 880,1000"/>
</g>
<path class="ld" d="M715,990 L772,1022.7 L773,1021 L773.5,1023 L785,1029.6 L784,1031 L876.25,1082.5 L876.25,1127.5"/>

<!-- p28.svg -->
<g class="p" transform="translate(530 310) scale(0.125)">

<path d="M190,150 C130,180 85,260 80,340 C80,400 90,430 110,450 L250,510 L335,560"/>
<path d="M180,155 L390,250 M185,130 C200,125 220,128 240,135"/>
<path d="M140,210 L230,255 M115,270 L200,310 M95,330 L180,375 M110,385 L175,420 M195,180 L290,225"/>
<path d="M250,510 C200,470 195,380 230,310 C260,260 310,240 390,250 M265,500 C230,450 235,370 265,320 C290,280 330,265 380,262"/>
<path d="M390,265 L500,305 C550,320 565,400 545,460 C520,540 460,590 400,595 C370,595 350,585 335,560 C290,520 260,470 265,400 C270,340 310,290 390,265"/>
<path d="M310,320 L400,355 M290,370 L380,410 M270,425 L345,465 M400,275 L485,310 M290,510 L330,525"/>
</g>
<g class="p" transform="translate(595 350) scale(0.11227)">
<path d="M55,520 C20,430 60,300 150,180 C160,140 190,110 230,100 L270,75 C300,75 310,95 305,105 C330,115 370,130 390,150 C420,200 420,300 380,380 C330,470 250,540 170,560 C110,565 70,545 55,520 Z"/>
<path d="M100,480 C80,400 110,300 170,220 L200,195 M355,175 C370,220 360,300 320,380 C270,460 200,510 140,510 C115,500 100,490 100,480 M255,160 C290,150 330,155 355,175"/>
<path d="M180,150 C190,130 220,125 235,140 C245,160 230,190 210,195 C190,195 180,175 180,150 Z M245,100 C250,130 245,150 240,160 M300,100 C285,115 275,125 270,140 M350,165 L380,205 M140,235 L175,200"/>
<path d="M400,690 C350,640 350,530 400,440 C450,350 530,290 600,280 C660,275 710,310 725,380 C740,470 700,570 630,650 C580,700 520,730 470,730 C440,728 415,710 400,690 Z"/>
<path d="M470,660 C430,620 420,530 460,440 C500,370 570,345 620,355 C660,370 670,430 660,500 C645,570 590,640 530,665 C505,672 485,670 470,660 Z M650,370 C675,390 690,410 690,440 M470,660 C500,670 530,665 555,655 M560,305 C590,295 620,290 650,300 M385,610 C390,650 400,680 410,695"/>
<path d="M830,970 C740,930 700,830 710,740 C720,640 800,530 920,475 C960,460 1000,455 1040,470 L1095,510 C1160,540 1190,610 1185,690 C1175,810 1100,920 1000,980 C950,1005 890,1010 830,970 Z M990,540 C1030,525 1070,515 1095,510 M800,870 C805,920 815,950 830,970"/>
<path d="M905,940 C850,900 840,800 880,710 C920,630 990,580 1050,578 C1110,580 1135,630 1130,700 C1120,790 1060,880 990,930 C960,950 930,955 905,940 Z"/>
<path d="M925,920 C880,880 875,790 910,720 C950,650 1010,615 1060,620 C1105,630 1120,680 1110,740 C1095,820 1040,890 980,915 C960,925 940,925 925,920 Z M890,845 C895,760 950,680 1020,632 M900,890 C940,880 970,860 995,850 M1065,630 C1080,660 1080,690 1070,720"/>
</g>

<!-- p32.svg -->
<g class="p" transform="translate(660 380) scale(0.125)">
<path d="M770,495 C820,420 880,360 960,352 C1010,350 1070,390 1100,420 L1150,480 C1200,470 1247,520 1247,580"/>
<path d="M770,495 C700,560 640,640 610,720 C570,800 555,860 555,950 L555,1150 C555,1250 590,1310 650,1400 L800,1650"/>
<path d="M780,505 L900,570 L960,600 M860,500 C870,450 930,420 975,430 C1000,445 995,490 960,515 C920,545 880,545 865,520 M890,520 C890,490 920,460 960,455 M1060,455 C1060,510 1030,560 985,605"/>
<path d="M900,1015 C840,1000 830,920 870,820 C900,750 960,680 1020,640 M1150,480 C1180,530 1170,620 1140,700 C1100,800 1060,900 1000,980 C970,1010 930,1020 900,1015 M1247,600 C1240,660 1200,720 1180,760 L1175,780"/>
<path d="M945,920 C920,880 925,800 970,740 C1010,690 1070,690 1100,710 C1120,740 1110,790 1090,840 C1060,900 1000,935 970,930 C955,928 950,925 945,920 Z"/>
<path d="M1000,740 L1080,790 M965,800 L1070,845 M950,860 L1050,890 M960,900 L1000,915 M1040,710 L1100,740 M1090,700 L1150,650 M1100,720 L1160,670"/>
<path d="M820,830 C780,880 760,950 790,1020 L810,1080 L900,1200 L980,1070 L1000,1010 M805,900 C810,960 840,1010 890,1030"/>
<path d="M900,1200 L900,1230 L1120,1570 L1140,1600 L1100,1768 M620,1115 L895,1570 C905,1610 900,1640 880,1650 L510,1768"/>
</g>
<g class="p" transform="translate(676 590) scale(0.16667)">
<path d="M470,0 L95,140 M740,0 L715,120 C705,160 690,180 665,190"/>
<path d="M95,140 C60,150 45,180 40,220 L20,310 C10,360 20,400 60,430 L330,610 C370,640 410,645 440,625 L490,620"/>
<path d="M100,140 L245,215 M400,260 L455,300 C475,315 478,335 472,365 L440,610"/>
<path d="M140,255 L435,340 L385,600 L115,380 Z M135,375 L210,350 M235,345 C230,370 260,385 420,390 M225,405 C240,430 290,440 415,440 M235,430 C250,460 300,490 390,490 M335,575 L385,590"/>
<path d="M165,485 C165,520 190,540 230,560 L330,620"/>
<path d="M245,215 C232,175 240,120 290,100 L320,90 M540,150 L700,230 C720,240 735,260 735,290 L720,310 M505,300 L690,265 M280,195 L420,255"/>
<path d="M300,130 C300,90 350,70 420,75 C490,80 540,110 545,150 C545,190 500,215 440,215 C370,215 305,180 300,130 Z M335,135 C360,160 430,180 500,175"/>
<path d="M580,320 C620,300 680,295 700,300 L1100,545 M580,320 C520,350 470,430 465,520 C465,580 480,610 500,630 L910,860"/>
<path d="M1100,545 C1160,580 1195,630 1190,700 C1180,790 1110,870 1040,885 C990,890 940,880 900,855 M910,860 C890,800 900,700 960,630 C1000,580 1060,550 1100,545 M980,860 C960,800 970,700 1040,630 C1080,600 1120,595 1135,600 M1145,690 C1150,660 1120,650 1090,665 C1040,690 1010,760 1030,800 C1050,830 1080,820 1090,810"/>

<path d="M481,360 L465,405 M420,570 L440,565"/>
</g>
<g class="p" transform="translate(810 460) scale(0.05615)">
<path d="M310,190 C250,160 170,190 140,270 C130,330 150,380 190,400 M300,180 L680,420 M190,400 L540,620 M680,420 C720,450 730,520 700,580 C670,630 610,650 560,630"/>
<path d="M410,280 C420,330 410,420 300,450 M500,320 C510,380 490,470 390,500 M580,370 C590,430 560,520 470,560 M650,410 C665,470 640,560 540,600 M350,230 C360,260 355,280 350,290 M250,400 C270,380 290,380 300,380"/>
<path d="M520,300 C600,260 700,260 770,300 C850,350 900,450 880,560 C860,680 780,770 680,790 C580,810 480,780 420,700 C380,650 370,580 375,520"/>
<path d="M850,380 L900,440 C960,480 1000,550 1000,630 C990,720 940,790 850,830 L760,860 L660,810 M900,570 L990,620 M760,760 L850,830"/>
</g>
<g class="p" transform="translate(540 680) scale(0.25)">
<path d="M120,80 C80,90 50,130 50,175 C50,210 65,225 85,235 L325,375 L320,365 L940,740"/>
<path d="M120,80 L600,345 L630,365 L625,375 L1040,610"/>
<path d="M1040,610 C1070,640 1065,690 1040,720 C1010,750 960,750 940,740 M970,720 C955,680 980,630 1030,625 M960,680 C960,710 975,730 1000,725 M1000,715 C1030,700 1050,670 1045,640"/>
</g>
<g class="p" transform="translate(750 650) scale(0.08821)">
<path d="M120,320 L380,318 M140,385 L385,382 M160,455 L405,450 M245,515 L405,510 M290,570 L410,565"/>
<path d="M85,240 L220,540 M150,250 L290,560 M220,270 L335,590 M265,295 L375,570 M310,265 L405,610"/>
<path d="M735,160 L860,150 M775,225 L960,210 M810,285 L1060,268 M840,345 L1150,322 M890,410 L1000,398"/>
<path d="M800,90 L970,430 M860,110 L1010,400 M910,150 L1045,370 M990,210 L1090,345 M1100,270 L1130,300 M770,130 L900,400"/>
</g>

<!-- pfwd.svg -->
<g transform="translate(65 1530) scale(0.05615)">
<path d="M130,860 L405,395 L450,420 L465,480 L1010,140 L1045,140 L1060,165 L1060,570 L465,900 L460,1015 Z" fill="#000"/>
<path d="M150,850 L420,415 M470,495 L1020,160 M475,835 L470,590 L600,520 M480,700 L600,650 M650,480 L695,715 L740,600 L790,665 L830,410 M870,600 L880,360 C900,320 940,290 1000,290 C1030,300 1030,340 1030,470 C1020,520 990,550 940,580 Z" fill="none" stroke="#fff" stroke-width="20"/>
</g>


</svg></body></html>
